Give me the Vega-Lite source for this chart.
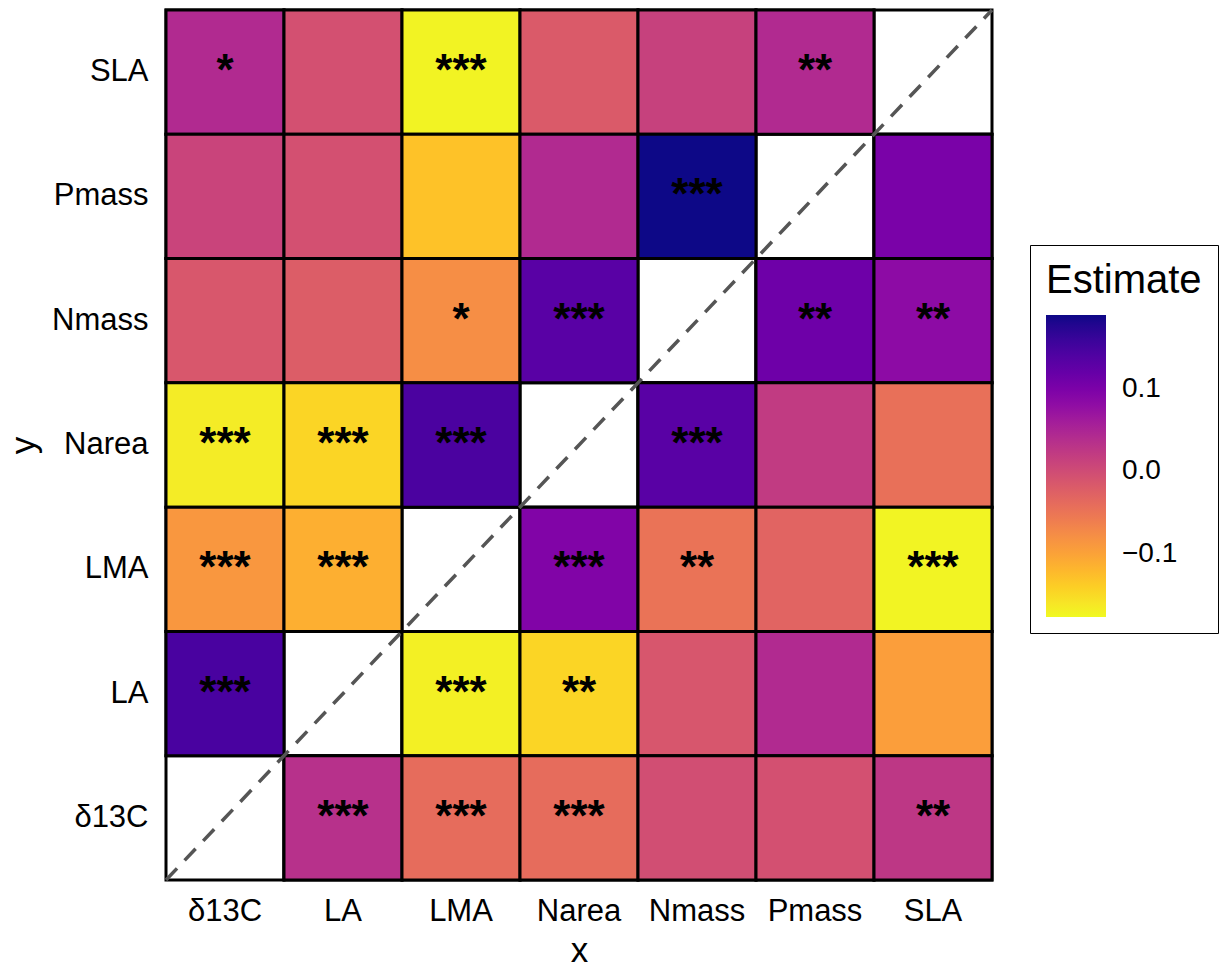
{
  "$schema": "https://vega.github.io/schema/vega-lite/v6.json",
  "width": 826,
  "height": 870,
  "autosize": "none",
  "padding": {"left": 166, "top": 10, "right": 228, "bottom": 91},
  "config": {
    "view": {"stroke": null},
    "font": "Liberation Sans",
    "axis": {"labelFont": "Liberation Sans", "titleFont": "Liberation Sans", "labelColor": "#000000", "titleColor": "#000000", "titleFontWeight": "normal", "domain": false, "ticks": false, "grid": false}
  },
  "datasets": {
    "cells": [
      {"col": "δ13C", "row": "SLA", "est": 0.043, "sig": "*"},
      {"col": "LA", "row": "SLA", "est": -0.005, "sig": ""},
      {"col": "LMA", "row": "SLA", "est": -0.172, "sig": "***"},
      {"col": "Narea", "row": "SLA", "est": -0.018, "sig": ""},
      {"col": "Nmass", "row": "SLA", "est": 0.014, "sig": ""},
      {"col": "Pmass", "row": "SLA", "est": 0.043, "sig": "**"},
      {"col": "SLA", "row": "SLA", "est": null, "sig": ""},
      {"col": "δ13C", "row": "Pmass", "est": 0.01, "sig": ""},
      {"col": "LA", "row": "Pmass", "est": -0.005, "sig": ""},
      {"col": "LMA", "row": "Pmass", "est": -0.13, "sig": ""},
      {"col": "Narea", "row": "Pmass", "est": 0.043, "sig": ""},
      {"col": "Nmass", "row": "Pmass", "est": 0.19, "sig": "***"},
      {"col": "Pmass", "row": "Pmass", "est": null, "sig": ""},
      {"col": "SLA", "row": "Pmass", "est": 0.102, "sig": ""},
      {"col": "δ13C", "row": "Nmass", "est": -0.014, "sig": ""},
      {"col": "LA", "row": "Nmass", "est": -0.022, "sig": ""},
      {"col": "LMA", "row": "Nmass", "est": -0.078, "sig": "*"},
      {"col": "Narea", "row": "Nmass", "est": 0.133, "sig": "***"},
      {"col": "Nmass", "row": "Nmass", "est": null, "sig": ""},
      {"col": "Pmass", "row": "Nmass", "est": 0.113, "sig": "**"},
      {"col": "SLA", "row": "Nmass", "est": 0.083, "sig": "**"},
      {"col": "δ13C", "row": "Narea", "est": -0.166, "sig": "***"},
      {"col": "LA", "row": "Narea", "est": -0.146, "sig": "***"},
      {"col": "LMA", "row": "Narea", "est": 0.145, "sig": "***"},
      {"col": "Narea", "row": "Narea", "est": null, "sig": ""},
      {"col": "Nmass", "row": "Narea", "est": 0.133, "sig": "***"},
      {"col": "Pmass", "row": "Narea", "est": 0.022, "sig": ""},
      {"col": "SLA", "row": "Narea", "est": -0.045, "sig": ""},
      {"col": "δ13C", "row": "LMA", "est": -0.088, "sig": "***"},
      {"col": "LA", "row": "LMA", "est": -0.112, "sig": "***"},
      {"col": "LMA", "row": "LMA", "est": null, "sig": ""},
      {"col": "Narea", "row": "LMA", "est": 0.095, "sig": "***"},
      {"col": "Nmass", "row": "LMA", "est": -0.048, "sig": "**"},
      {"col": "Pmass", "row": "LMA", "est": -0.03, "sig": ""},
      {"col": "SLA", "row": "LMA", "est": -0.173, "sig": "***"},
      {"col": "δ13C", "row": "LA", "est": 0.147, "sig": "***"},
      {"col": "LA", "row": "LA", "est": null, "sig": ""},
      {"col": "LMA", "row": "LA", "est": -0.17, "sig": "***"},
      {"col": "Narea", "row": "LA", "est": -0.146, "sig": "**"},
      {"col": "Nmass", "row": "LA", "est": -0.012, "sig": ""},
      {"col": "Pmass", "row": "LA", "est": 0.043, "sig": ""},
      {"col": "SLA", "row": "LA", "est": -0.095, "sig": ""},
      {"col": "δ13C", "row": "δ13C", "est": null, "sig": ""},
      {"col": "LA", "row": "δ13C", "est": 0.035, "sig": "***"},
      {"col": "LMA", "row": "δ13C", "est": -0.04, "sig": "***"},
      {"col": "Narea", "row": "δ13C", "est": -0.04, "sig": "***"},
      {"col": "Nmass", "row": "δ13C", "est": -0.002, "sig": ""},
      {"col": "Pmass", "row": "δ13C", "est": -0.005, "sig": ""},
      {"col": "SLA", "row": "δ13C", "est": 0.027, "sig": "**"}
    ],
    "diag": [
      {"px": 0, "py": 0},
      {"px": 1, "py": 1}
    ]
  },
  "layer": [
    {
      "data": {"name": "cells"},
      "mark": {"type": "rect", "fill": "white", "stroke": "black", "strokeWidth": 3},
      "encoding": {
        "x": {"field": "col", "type": "nominal", "sort": ["δ13C", "LA", "LMA", "Narea", "Nmass", "Pmass", "SLA"], "scale": {"paddingInner": 0, "paddingOuter": 0},
          "axis": {"title": "x", "labelFontSize": 31, "titleFontSize": 35, "labelPadding": 16, "titlePadding": 7, "labelAngle": 0}},
        "y": {"field": "row", "type": "nominal", "sort": ["SLA", "Pmass", "Nmass", "Narea", "LMA", "LA", "δ13C"], "scale": {"paddingInner": 0, "paddingOuter": 0},
          "axis": {"title": "y", "labelFontSize": 31, "titleFontSize": 35, "labelPadding": 18, "titlePadding": 10}}
      }
    },
    {
      "data": {"name": "cells"},
      "transform": [{"filter": "isValid(datum.est)"}],
      "mark": {"type": "rect", "stroke": "black", "strokeWidth": 3},
      "encoding": {
        "x": {"field": "col", "type": "nominal", "sort": ["δ13C", "LA", "LMA", "Narea", "Nmass", "Pmass", "SLA"], "scale": {"domain": ["δ13C", "LA", "LMA", "Narea", "Nmass", "Pmass", "SLA"], "paddingInner": 0, "paddingOuter": 0}, "axis": null},
        "y": {"field": "row", "type": "nominal", "sort": ["SLA", "Pmass", "Nmass", "Narea", "LMA", "LA", "δ13C"], "scale": {"domain": ["SLA", "Pmass", "Nmass", "Narea", "LMA", "LA", "δ13C"], "paddingInner": 0, "paddingOuter": 0}, "axis": null},
        "color": {"field": "est", "type": "quantitative", "title": "Estimate",
          "scale": {"scheme": "plasma", "reverse": true, "domain": [-0.177, 0.19]},
          "legend": {"orient": "none", "legendX": 864, "legendY": 235, "values": [-0.1, 0, 0.1], "format": ".1f",
            "gradientLength": 302, "gradientThickness": 60, "titleFontSize": 40, "titleFontWeight": "normal", "titleColor": "black", "labelFontSize": 28, "labelColor": "black", "labelOffset": 16,
            "padding": 16, "strokeColor": "black", "titlePadding": 14, "gradientStrokeWidth": 0, "labelFont": "Liberation Sans", "titleFont": "Liberation Sans"}}
      }
    },
    {
      "data": {"name": "cells"},
      "mark": {"type": "text", "fontSize": 44, "fontWeight": "bold", "baseline": "middle", "dy": 0, "color": "black"},
      "encoding": {
        "x": {"field": "col", "type": "nominal", "sort": ["δ13C", "LA", "LMA", "Narea", "Nmass", "Pmass", "SLA"], "scale": {"domain": ["δ13C", "LA", "LMA", "Narea", "Nmass", "Pmass", "SLA"], "paddingInner": 0, "paddingOuter": 0}, "axis": null},
        "y": {"field": "row", "type": "nominal", "sort": ["SLA", "Pmass", "Nmass", "Narea", "LMA", "LA", "δ13C"], "scale": {"domain": ["SLA", "Pmass", "Nmass", "Narea", "LMA", "LA", "δ13C"], "paddingInner": 0, "paddingOuter": 0}, "axis": null},
        "text": {"field": "sig"}
      }
    },
    {
      "data": {"name": "diag"},
      "mark": {"type": "line", "color": "#555555", "strokeWidth": 3.5, "strokeDash": [16, 11]},
      "encoding": {
        "x": {"field": "px", "type": "quantitative", "scale": {"domain": [0, 1], "nice": false}, "axis": null},
        "y": {"field": "py", "type": "quantitative", "scale": {"domain": [0, 1], "nice": false}, "axis": null}
      }
    }
  ],
  "resolve": {"scale": {"x": "independent", "y": "independent"}}
}
